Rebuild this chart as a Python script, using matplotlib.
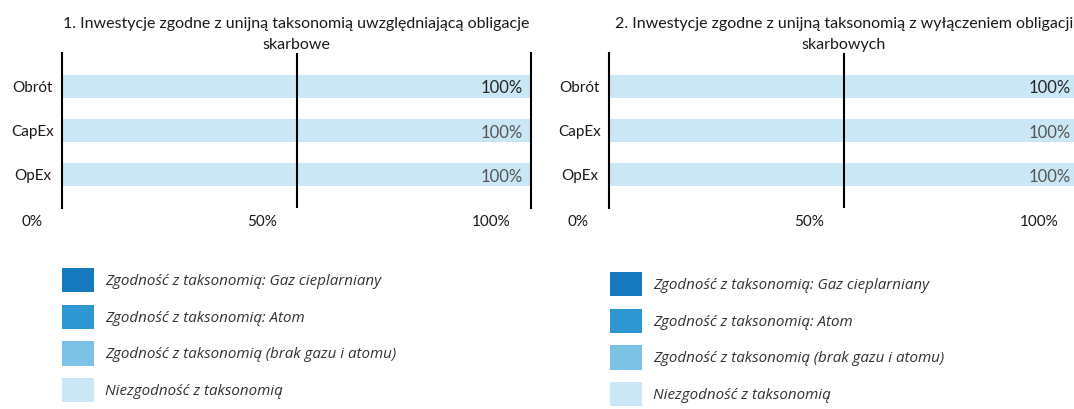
import matplotlib.pyplot as plt
import matplotlib.transforms as mtrans
from matplotlib.patches import Patch

# data
categories = ['Obrót', 'CapEx', 'OpEx']
titles = [
    '1. Inwestycje zgodne z unijną taksonomią uwzględniającą obligacje\nskarbowe',
    '2. Inwestycje zgodne z unijną taksonomią z wyłączeniem obligacji\nskarbowych',
]
series_names = [
    'Zgodność z taksonomią: Gaz cieplarniany',
    'Zgodność z taksonomią: Atom',
    'Zgodność z taksonomią (brak gazu i atomu)',
    'Niezgodność z taksonomią',
]
series_colors = ['#1679bf', '#2d97d4', '#7cc2e7', '#cae7f5']

# panel 1 (incl. sovereign bonds)
gaz_1 = [0, 0, 0]
atom_1 = [0, 0, 0]
brak_1 = [0, 0, 0]
niezg_1 = [100, 100, 100]
# panel 2 (excl. sovereign bonds)
gaz_2 = [0, 0, 0]
atom_2 = [0, 0, 0]
brak_2 = [0, 0, 0]
niezg_2 = [100, 100, 100]

x_ticks = [0, 50, 100]
x_ticklabels = ['0%', '50%', '100%']

AX_FONT = 'Lato'
LEG_FONT = 'Open Sans'

W, H = 1074, 409
fig = plt.figure(figsize=(W / 100, H / 100), dpi=100)

# axes boxes in pixels: left, top, width, height
boxes = [(62, 53, 469, 155), (609, 53, 470, 155)]
legend_pos = [(62, 268), (610, 272)]
panels = [
    [gaz_1, atom_1, brak_1, niezg_1],
    [gaz_2, atom_2, brak_2, niezg_2],
]


def draw_panel(ax, data, title):
    y = list(range(len(categories)))
    left = [0] * len(categories)
    for vals, col in zip(data, series_colors):
        ax.barh(y, vals, left=left, height=0.52, color=col, zorder=1)
        left = [a + b for a, b in zip(left, vals)]
    ax.set_xlim(0, 100)
    ax.set_ylim(len(categories) - 1 + 0.76, -0.76)

    for s in ['top', 'bottom']:
        ax.spines[s].set_visible(False)
    for s in ['left', 'right']:
        ax.spines[s].set_linewidth(1.5)
        ax.spines[s].set_zorder(3)
    ax.axvline(50, color='black', lw=1.5, zorder=3)

    ax.set_xticks([])
    ax.set_yticks(y)
    ax.set_yticklabels(categories, fontsize=11, family=AX_FONT, color='#1a1a1a')
    ax.tick_params(axis='y', length=0, pad=21)
    plt.setp(ax.get_yticklabels(), ha='center')

    # x labels sit a bit left of their gridlines
    blend = mtrans.blended_transform_factory(ax.transData, ax.transAxes)
    off = mtrans.offset_copy(blend, fig=fig, x=-20, y=-14, units='dots')
    for xt, lab in zip(x_ticks, x_ticklabels):
        ax.text(xt, 0, lab, transform=off, ha='right', va='center',
                fontsize=11, family=AX_FONT, color='#1a1a1a')

    # value labels at bar ends
    lab_tr = mtrans.offset_copy(ax.transData, fig=fig, x=-8, y=-2, units='dots')
    for i, tot in enumerate(left):
        ax.text(tot, i, f'{tot:.0f}%', transform=lab_tr, ha='right', va='center',
                fontsize=12, family=AX_FONT,
                color='#262626' if i == 0 else '#555555')

    ax.set_title(title, fontsize=11.5, family=AX_FONT, color='#1a1a1a',
                 pad=3, linespacing=1.6)


for box, data, title, lp in zip(boxes, panels, titles, legend_pos):
    l, t, w, h = box
    ax = fig.add_axes([l / W, (H - t - h) / H, w / W, h / H])
    draw_panel(ax, data, title)

    handles = [Patch(facecolor=c, edgecolor='none') for c in series_colors]
    fs = 10.9
    fig.legend(handles, series_names, loc='upper left',
               bbox_to_anchor=(lp[0] / W, (H - lp[1]) / H),
               bbox_transform=fig.transFigure, frameon=False,
               borderpad=0, borderaxespad=0,
               handlelength=23 / fs, handleheight=2.1, handletextpad=0.75,
               labelspacing=0.81,
               prop={'family': LEG_FONT, 'style': 'italic', 'size': fs},
               labelcolor='#333333')

fig.savefig('out.png', dpi=100)
